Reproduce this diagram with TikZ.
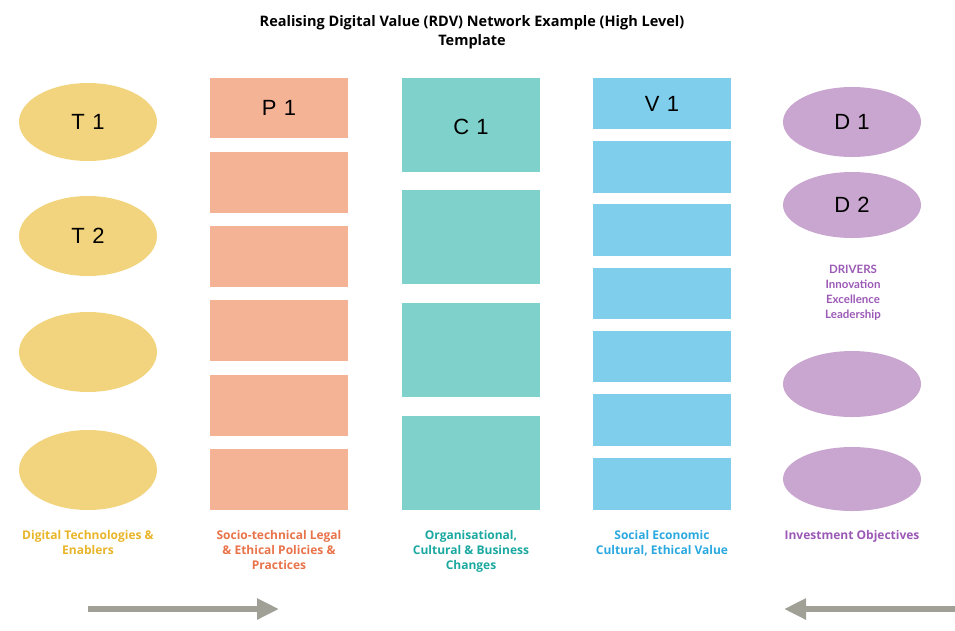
\documentclass[tikz,border=0pt]{standalone}
\usepackage{fontspec}
\setmainfont{Open Sans}
\newfontfamily\letterfont{Liberation Sans}
\newfontfamily\drvfont{Lato}
\usetikzlibrary{shapes.geometric,arrows.meta}
\definecolor{tyel}{RGB}{243,212,126}
\definecolor{psal}{RGB}{245,179,150}
\definecolor{cteal}{RGB}{127,209,203}
\definecolor{vblue}{RGB}{127,207,236}
\definecolor{dpur}{RGB}{201,166,208}
\definecolor{tyeltxt}{RGB}{232,181,40}
\definecolor{psaltxt}{RGB}{232,115,74}
\definecolor{ctealtxt}{RGB}{27,168,160}
\definecolor{vbluetxt}{RGB}{42,168,223}
\definecolor{dpurtxt}{RGB}{155,89,182}
\definecolor{arrgrey}{RGB}{160,160,150}
\tikzset{
  letters/.style={font=\letterfont\fontsize{22}{24}\selectfont},
  ell/.style={ellipse,minimum width=138pt,minimum height=80pt,inner sep=0pt,letters},
  tell/.style={ell,fill=tyel},
  dell/.style={ell,fill=dpur},
  lbl/.style={align=center,font=\bfseries\fontsize{12}{15}\selectfont},
  bigarrow/.style={draw=arrgrey,line width=6pt,-{Triangle[length=22pt,width=20pt]}},
}
\begin{document}
\begin{tikzpicture}[x=1pt,y=-1pt]
\useasboundingbox (0,0) rectangle (955,630);
% title
\node[font=\bfseries\fontsize{14.5}{19}\selectfont,align=center] (title) at (472,32) {Realising Digital Value (RDV) Network Example (High Level)\\Template};
% T column
\node[tell,minimum height=78pt] (T1) at (88,122) {T\,\,1};
\node[tell] (T2) at (88,236) {T\,\,2};
\node[tell] (T3) at (88,352) {};
\node[tell] (T4) at (88,470) {};
% P column
\foreach \a/\b in {78/138,152/213,226/287,300/361,375/436,449/510}{
  \fill[psal] (210,\a) rectangle (348,\b);
}
\node[letters] (P1) at (279,108) {P\,\,1};
% C column
\foreach \a/\b in {78/172,190/284,303/397,416/510}{
  \fill[cteal] (402,\a) rectangle (540,\b);
}
\node[letters] (C1) at (471,127) {C\,\,1};
% V column
\foreach \a/\b in {78/129,141/193,204/256,268/319,331/382,394/446,458/510}{
  \fill[vblue] (593,\a) rectangle (731,\b);
}
\node[letters] (V1) at (662,104) {V\,\,1};
% D column
\node[dell,minimum height=70pt] (D1) at (852,122) {D\,\,1};
\node[dell,minimum height=66pt] (D2) at (852,205) {D\,\,2};
\node[dell,minimum height=66pt] (D3) at (852,384) {};
\node[dell,minimum height=64pt] (D4) at (852,479) {};
\node[align=center,text=dpurtxt,font=\drvfont\bfseries\fontsize{11.5}{15}\selectfont] (drv) at (853,293) {DRIVERS\\Innovation\\Excellence\\Leadership};
% labels
\node[lbl,text=tyeltxt,anchor=north] (lT) at (88,527) {Digital Technologies \&\\Enablers};
\node[lbl,text=psaltxt,anchor=north] (lP) at (279,527) {Socio-technical Legal\\\& Ethical Policies \&\\Practices};
\node[lbl,text=ctealtxt,anchor=north] (lC) at (471,527) {Organisational,\\Cultural \& Business\\Changes};
\node[lbl,text=vbluetxt,anchor=north] (lV) at (662,527) {Social Economic\\Cultural, Ethical Value};
\node[lbl,text=dpurtxt,anchor=north] (lD) at (852,527) {Investment Objectives};
% arrows
\coordinate (a1s) at (88,609);
\coordinate (a1e) at (279,609);
\coordinate (a2s) at (955,609);
\coordinate (a2e) at (784,609);
\draw[bigarrow] (a1s) -- (a1e);
\draw[bigarrow] (a2s) -- (a2e);
\end{tikzpicture}
\end{document}
